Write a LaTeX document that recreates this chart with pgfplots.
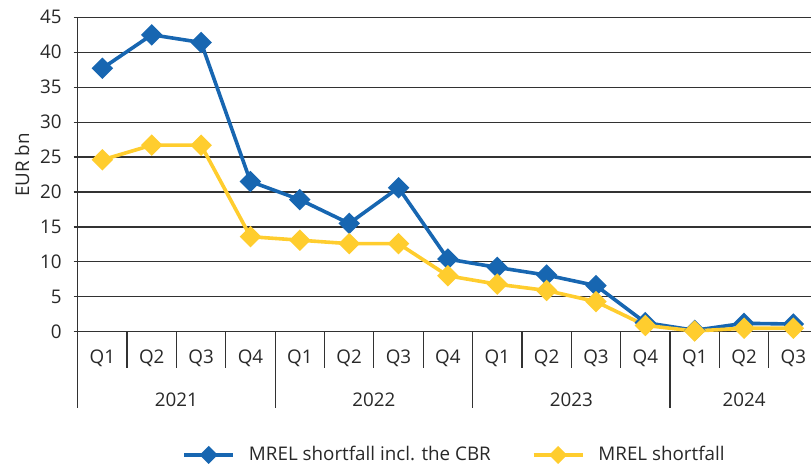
\documentclass[border=0pt]{standalone}
\usepackage{fontspec}
\setmainfont{Open Sans}
\usepackage{pgfplots}
\pgfplotsset{compat=1.18}
\definecolor{cblue}{RGB}{23,102,177}
\definecolor{cyellow}{RGB}{255,205,46}
\definecolor{ctext}{RGB}{40,40,40}
\definecolor{cgrid}{RGB}{50,50,50}
\begin{document}
\begin{tikzpicture}[font=\fontsize{9.4}{11}\selectfont, text=ctext]
\begin{axis}[
  scale only axis,
  width=366.65pt, height=157.2pt,
  xmin=-0.5, xmax=14.356,
  ymin=0, ymax=45,
  ytick={0,5,...,45},
  xtick={0,...,14},
  xticklabels={Q1,Q2,Q3,Q4,Q1,Q2,Q3,Q4,Q1,Q2,Q3,Q4,Q1,Q2,Q3},
  xtick style={draw=none},
  xticklabel style={anchor=center, yshift=-11.5pt},
  ytick style={cgrid, line width=0.6pt},
  tick align=outside,
  major tick length=4pt,
  yticklabel style={inner sep=0pt, xshift=-5.85pt},
  /pgf/number format/assume math mode=true,
  axis x line=bottom, axis y line=left,
  axis line style={-, cgrid, line width=0.6pt},
  ymajorgrids,
  grid style={cgrid, line width=0.6pt},
  clip=false,
  ylabel={EUR bn},
  every axis y label/.style={at={([xshift=-27.8pt]axis description cs:0,0.53)}, rotate=90, anchor=center},
  legend columns=2,
  legend style={at={(axis description cs:0.5125,-0.392)}, anchor=center, draw=none, fill=none,
    /tikz/every odd column/.append style={column sep=7pt},
    /tikz/every even column/.append style={column sep=20.5pt},
    nodes={inner sep=0pt, text=ctext}},
  legend cell align=left,
  legend image code/.code={\draw[#1, mark repeat=2, mark phase=2, mark size=2.3pt] plot coordinates {(0pt,0pt) (12.25pt,0pt) (24.5pt,0pt)};},
]
\addplot[cblue, line width=1.8pt, mark=square*, mark size=2.9pt, mark options={rotate=45, solid}] coordinates {
 (0,37.7) (1,42.5) (2,41.4) (3,21.5) (4,18.9) (5,15.5) (6,20.6) (7,10.4)
 (8,9.2) (9,8.1) (10,6.6) (11,1.3) (12,0.2) (13,1.2) (14,1.1)};
\addlegendentry{MREL shortfall incl. the CBR}
\addplot[cyellow, line width=1.8pt, mark=square*, mark size=2.9pt, mark options={rotate=45, solid}] coordinates {
 (0,24.6) (1,26.7) (2,26.7) (3,13.6) (4,13.1) (5,12.6) (6,12.6) (7,8.0)
 (8,6.8) (9,5.9) (10,4.3) (11,0.9) (12,0.1) (13,0.5) (14,0.5)};
\addlegendentry{MREL shortfall}
\pgfplotsinvokeforeach{0.5,1.5,2.5,4.5,5.5,6.5,8.5,9.5,10.5,12.5,13.5}{
  \draw[cgrid, line width=0.6pt] (axis cs:#1,0) -- ++(0pt,-18pt);
}
\pgfplotsinvokeforeach{-0.5,3.5,7.5,11.5}{
  \draw[cgrid, line width=0.6pt] (axis cs:#1,0) -- ++(0pt,-38.2pt);
}
\node[anchor=center] at ([yshift=-34.2pt]axis cs:1.5,0) {2021};
\node[anchor=center] at ([yshift=-34.2pt]axis cs:5.5,0) {2022};
\node[anchor=center] at ([yshift=-34.2pt]axis cs:9.5,0) {2023};
\node[anchor=center] at ([yshift=-34.2pt]axis cs:13,0) {2024};
\end{axis}
\pgfresetboundingbox
\path (-38.85pt,-68.15pt) rectangle (366.65pt,165.85pt);
\end{tikzpicture}
\end{document}
